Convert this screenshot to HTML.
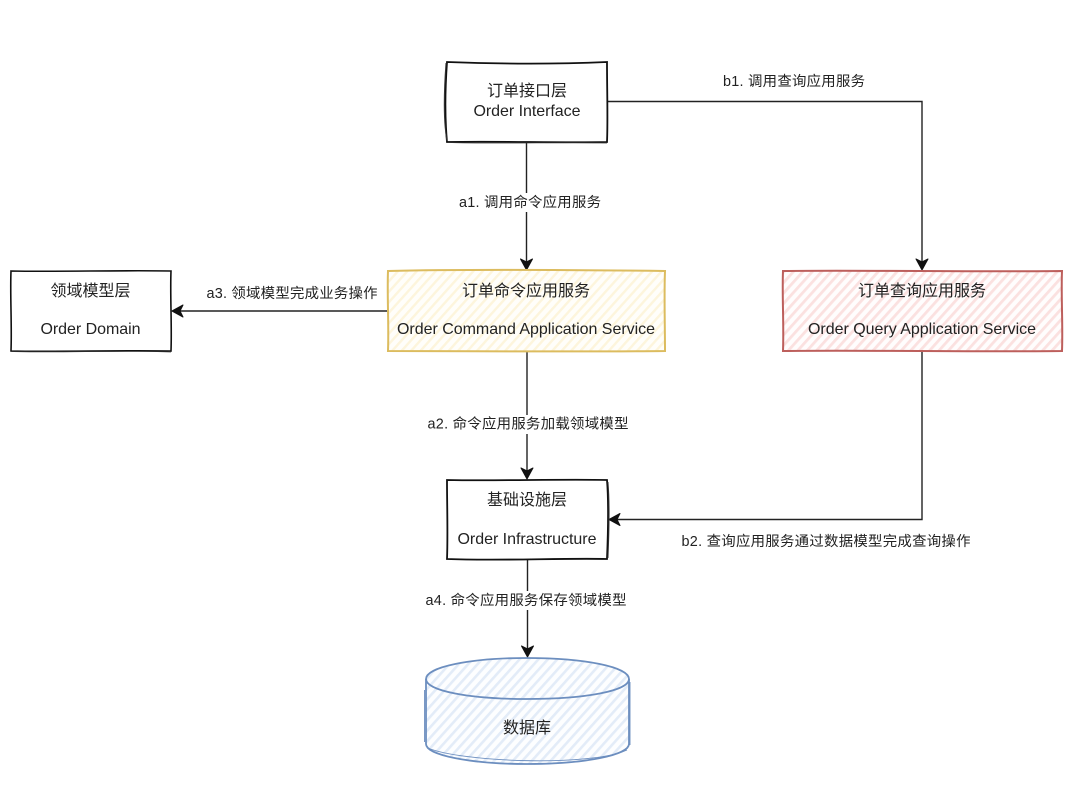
<!DOCTYPE html>
<html><head><meta charset="utf-8"><style>
html,body{margin:0;padding:0;background:#fff;width:1080px;height:806px;overflow:hidden}
svg{display:block}
text{font-family:"Liberation Sans","Noto Sans CJK SC",sans-serif;fill:#222;text-anchor:middle}
.t{font-size:16px}.l{font-size:14.400px}
</style></head><body>
<svg width="1080" height="806" viewBox="0 0 1080 806" xmlns="http://www.w3.org/2000/svg">
<defs>
<pattern id="hy" width="7" height="7" patternUnits="userSpaceOnUse" patternTransform="rotate(-48)"><rect width="7" height="7" fill="#fffefa"/><rect width="7" height="2.4" fill="#fdf5dc"/></pattern>
<pattern id="hr" width="7" height="7" patternUnits="userSpaceOnUse" patternTransform="rotate(-48)"><rect width="7" height="7" fill="#fffdfd"/><rect width="7" height="2.8" fill="#fbe1e0"/></pattern>
<pattern id="hb" width="7" height="7" patternUnits="userSpaceOnUse" patternTransform="rotate(-48)"><rect width="7" height="7" fill="#fdfeff"/><rect width="7" height="2.6" fill="#e3ecf8"/></pattern>
</defs>
<rect width="1080" height="806" fill="#fff"/>

<!-- connectors -->
<g fill="none" stroke="#222" stroke-width="1.400">
<path d="M526.500 143V262"/>
<path d="M608 101.500H922V262"/>
<path d="M527 351V471"/>
<path d="M922 351V519.500H617"/>
<path d="M527.500 559V649"/>
<path d="M388 311H180"/>
</g>
<g fill="#111" stroke="#111" stroke-width="1" stroke-linejoin="round">
<path d="M526.500 270L520.500 259L526.500 262L532.500 259Z"/>
<path d="M922 270L916 259L922 262L928 259Z"/>
<path d="M527 479L521 468L527 471L533 468Z"/>
<path d="M527.500 657L521.500 646L527.500 649L533.500 646Z"/>
<path d="M609 519.500L620 513.500L617 519.500L620 525.500Z"/>
<path d="M172 311L183 305L180 311L183 317Z"/>
</g>

<!-- label backgrounds -->
<g fill="#fff">
<rect x="458" y="193" width="144" height="19"/>
<rect x="426" y="415" width="204" height="19"/>
<rect x="425" y="591" width="202" height="19"/>
</g>

<!-- Order Interface -->
<path d="M447 62C500 64 560 64 607 62C607 90 608 120 607 142C560 143 500 141 447 142C445 120 445 90 447 62Z" fill="#fff" stroke="#111" stroke-width="1.800"/>
<path d="M446 63C444 90 443 120 447 141" fill="none" stroke="#333" stroke-width="1"/>
<path d="M447 142.500C500 144 560 142 607 143" fill="none" stroke="#333" stroke-width="0.800"/>
<text class="t" x="527" y="96" textLength="80">订单接口层</text>
<text class="t" x="527" y="116" textLength="107">Order Interface</text>

<!-- Domain -->
<path d="M11 271C60 272 120 270 171 271C170 295 172 325 171 351C120 350 60 352 11 351C12 325 10 295 11 271Z" fill="#fff" stroke="#111" stroke-width="1.600"/>
<path d="M11 351.500C60 353 120 350 171 352" fill="none" stroke="#333" stroke-width="0.800"/>
<text class="t" x="90.500" y="296" textLength="80">领域模型层</text>
<text class="t" x="90.500" y="334" textLength="100">Order Domain</text>

<!-- Command -->
<path d="M388 271C470 269 580 270 665 271C664 295 665 325 665 351C580 352 470 351 388 351C389 325 387 295 388 271Z" fill="url(#hy)" stroke="#dcbc5f" stroke-width="2"/>
<text class="t" x="526" y="296" textLength="128">订单命令应用服务</text>
<text class="t" x="526" y="334" textLength="258">Order Command Application Service</text>

<!-- Query -->
<path d="M783 271C860 270 980 272 1062 271C1061 295 1063 325 1062 351C980 352 860 350 783 351C784 325 782 295 783 271Z" fill="url(#hr)" stroke="#bd5f5c" stroke-width="2"/>
<text class="t" x="922" y="296" textLength="128">订单查询应用服务</text>
<text class="t" x="922" y="334" textLength="228">Order Query Application Service</text>

<!-- Infrastructure -->
<path d="M447 480C500 481 560 479 607 480C609 505 608 535 607 559C560 558 500 561 447 559C448 535 447 505 447 480Z" fill="#fff" stroke="#111" stroke-width="1.800"/>
<path d="M608 482C610 505 609 535 608 558" fill="none" stroke="#333" stroke-width="0.900"/>
<text class="t" x="527" y="505" textLength="80">基础设施层</text>
<text class="t" x="527" y="544" textLength="139">Order Infrastructure</text>

<!-- Cylinder -->
<path d="M426 679C426 667 470 658 527 658C585 658 629 667 629 679V744C629 755 585 764 527 764C470 764 426 755 426 744Z" fill="url(#hb)" stroke="#6c8ebf" stroke-width="1.800"/>
<path d="M426 679C426 691 470 699 527 699C585 699 629 691 629 679" fill="none" stroke="#6c8ebf" stroke-width="1.800"/>
<path d="M424.500 690V742M630 682V745M428 748C460 762 590 767 627 750" fill="none" stroke="#6c8ebf" stroke-width="0.900"/>
<text class="t" x="527" y="733" textLength="48">数据库</text>

<!-- labels -->
<text class="l" x="530" y="207" textLength="142">a1. 调用命令应用服务</text>
<text class="l" x="794" y="86" textLength="142">b1. 调用查询应用服务</text>
<text class="l" x="292" y="298" textLength="171">a3. 领域模型完成业务操作</text>
<text class="l" x="528" y="428.500" textLength="201">a2. 命令应用服务加载领域模型</text>
<text class="l" x="526" y="605" textLength="201">a4. 命令应用服务保存领域模型</text>
<text class="l" x="826" y="546" textLength="289">b2. 查询应用服务通过数据模型完成查询操作</text>
</svg>
</body></html>
